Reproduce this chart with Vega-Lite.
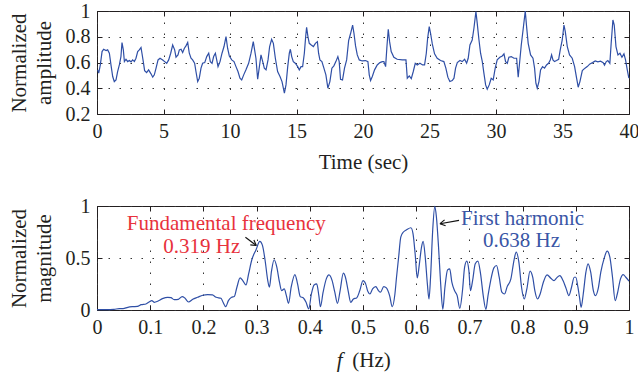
{
  "$schema": "https://vega.github.io/schema/vega-lite/v6.json",
  "background": "white",
  "padding": {"left": 7, "top": 0, "right": 6, "bottom": 4},
  "spacing": 92,
  "bounds": "flush",
  "config": {
    "font": "Liberation Serif",
    "view": {"stroke": "#231f20", "strokeWidth": 1},
    "axis": {
      "labelFont": "Liberation Serif",
      "labelFontSize": 20,
      "labelColor": "#231f20",
      "labelFlush": false,
      "labelOverlap": false,
      "labelBound": false,
      "titleFont": "Liberation Serif",
      "titleFontSize": 21,
      "titleFontWeight": "normal",
      "titleColor": "#231f20",
      "titleLineHeight": 25,
      "domain": false,
      "tickColor": "#231f20",
      "tickSize": -5,
      "tickWidth": 1,
      "gridColor": "#333333",
      "gridDash": [1.5, 9.5],
      "gridOpacity": 1,
      "gridWidth": 1
    }
  },
  "datasets": {
    "signal": [
      {"t":0.05,"v":0.543},{"t":0.13,"v":0.517},{"t":0.25,"v":0.581},{"t":0.38,"v":0.685},{"t":0.5,"v":0.703},{"t":0.68,"v":0.693},{"t":0.8,"v":0.698},{"t":0.93,"v":0.672},{"t":1.05,"v":0.581},{"t":1.18,"v":0.491},{"t":1.3,"v":0.452},{"t":1.43,"v":0.465},{"t":1.55,"v":0.53},{"t":1.68,"v":0.581},{"t":1.8,"v":0.646},{"t":1.88,"v":0.755},{"t":1.98,"v":0.698},{"t":2.06,"v":0.607},{"t":2.18,"v":0.625},{"t":2.31,"v":0.607},{"t":2.43,"v":0.615},{"t":2.56,"v":0.605},{"t":2.68,"v":0.62},{"t":2.81,"v":0.607},{"t":2.93,"v":0.633},{"t":3.06,"v":0.685},{"t":3.18,"v":0.698},{"t":3.31,"v":0.716},{"t":3.38,"v":0.672},{"t":3.48,"v":0.607},{"t":3.58,"v":0.537},{"t":3.73,"v":0.522},{"t":3.88,"v":0.543},{"t":4.06,"v":0.512},{"t":4.19,"v":0.486},{"t":4.31,"v":0.504},{"t":4.44,"v":0.556},{"t":4.59,"v":0.62},{"t":4.74,"v":0.633},{"t":4.94,"v":0.62},{"t":5.09,"v":0.607},{"t":5.24,"v":0.594},{"t":5.39,"v":0.62},{"t":5.54,"v":0.672},{"t":5.69,"v":0.736},{"t":5.84,"v":0.698},{"t":5.94,"v":0.641},{"t":6.09,"v":0.659},{"t":6.19,"v":0.698},{"t":6.32,"v":0.703},{"t":6.44,"v":0.677},{"t":6.57,"v":0.711},{"t":6.69,"v":0.729},{"t":6.82,"v":0.755},{"t":6.94,"v":0.672},{"t":7.07,"v":0.633},{"t":7.19,"v":0.62},{"t":7.34,"v":0.594},{"t":7.44,"v":0.53},{"t":7.57,"v":0.452},{"t":7.69,"v":0.478},{"t":7.82,"v":0.556},{"t":7.94,"v":0.594},{"t":8.1,"v":0.599},{"t":8.25,"v":0.646},{"t":8.4,"v":0.672},{"t":8.52,"v":0.607},{"t":8.65,"v":0.594},{"t":8.77,"v":0.646},{"t":8.9,"v":0.672},{"t":9.0,"v":0.62},{"t":9.1,"v":0.568},{"t":9.25,"v":0.607},{"t":9.4,"v":0.672},{"t":9.55,"v":0.724},{"t":9.7,"v":0.801},{"t":9.82,"v":0.711},{"t":9.95,"v":0.651},{"t":10.13,"v":0.62},{"t":10.3,"v":0.607},{"t":10.45,"v":0.568},{"t":10.6,"v":0.53},{"t":10.75,"v":0.478},{"t":10.88,"v":0.465},{"t":11.03,"v":0.504},{"t":11.2,"v":0.543},{"t":11.4,"v":0.594},{"t":11.58,"v":0.672},{"t":11.75,"v":0.762},{"t":11.85,"v":0.698},{"t":11.95,"v":0.633},{"t":12.08,"v":0.47},{"t":12.21,"v":0.568},{"t":12.33,"v":0.659},{"t":12.46,"v":0.607},{"t":12.58,"v":0.556},{"t":12.71,"v":0.543},{"t":12.86,"v":0.62},{"t":12.98,"v":0.724},{"t":13.13,"v":0.78},{"t":13.26,"v":0.749},{"t":13.41,"v":0.633},{"t":13.58,"v":0.53},{"t":13.76,"v":0.491},{"t":13.91,"v":0.452},{"t":14.09,"v":0.362},{"t":14.21,"v":0.426},{"t":14.34,"v":0.568},{"t":14.46,"v":0.672},{"t":14.54,"v":0.703},{"t":14.64,"v":0.646},{"t":14.76,"v":0.607},{"t":14.91,"v":0.594},{"t":15.09,"v":0.568},{"t":15.21,"v":0.543},{"t":15.34,"v":0.568},{"t":15.46,"v":0.568},{"t":15.59,"v":0.672},{"t":15.69,"v":0.801},{"t":15.76,"v":0.873},{"t":15.86,"v":0.801},{"t":15.96,"v":0.749},{"t":16.11,"v":0.736},{"t":16.27,"v":0.724},{"t":16.42,"v":0.749},{"t":16.57,"v":0.762},
      {"t":16.66,"v":0.672},{"t":16.76,"v":0.62},{"t":16.91,"v":0.607},{"t":17.06,"v":0.556},{"t":17.21,"v":0.504},{"t":17.36,"v":0.401},{"t":17.51,"v":0.452},{"t":17.66,"v":0.556},{"t":17.81,"v":0.574},{"t":17.96,"v":0.607},{"t":18.11,"v":0.646},{"t":18.21,"v":0.607},{"t":18.31,"v":0.47},{"t":18.46,"v":0.465},{"t":18.61,"v":0.556},{"t":18.77,"v":0.62},{"t":18.92,"v":0.77},{"t":19.07,"v":0.827},{"t":19.22,"v":0.891},{"t":19.32,"v":0.827},{"t":19.44,"v":0.729},{"t":19.57,"v":0.659},{"t":19.72,"v":0.62},{"t":19.94,"v":0.612},{"t":20.19,"v":0.615},{"t":20.37,"v":0.607},{"t":20.47,"v":0.504},{"t":20.57,"v":0.46},{"t":20.7,"v":0.491},{"t":20.87,"v":0.543},{"t":21.07,"v":0.581},{"t":21.27,"v":0.599},{"t":21.45,"v":0.607},{"t":21.57,"v":0.607},{"t":21.7,"v":0.568},{"t":21.8,"v":0.724},{"t":21.9,"v":0.858},{"t":22.0,"v":0.762},{"t":22.12,"v":0.685},{"t":22.32,"v":0.641},{"t":22.57,"v":0.625},{"t":22.95,"v":0.62},{"t":23.23,"v":0.62},{"t":23.33,"v":0.478},{"t":23.48,"v":0.496},{"t":23.63,"v":0.475},{"t":23.78,"v":0.53},{"t":23.93,"v":0.594},{"t":24.08,"v":0.581},{"t":24.28,"v":0.594},{"t":24.48,"v":0.581},{"t":24.63,"v":0.581},{"t":24.76,"v":0.672},{"t":24.86,"v":0.788},{"t":24.98,"v":0.879},{"t":25.08,"v":0.827},{"t":25.21,"v":0.744},{"t":25.38,"v":0.667},{"t":25.58,"v":0.633},{"t":25.83,"v":0.615},{"t":26.08,"v":0.607},{"t":26.23,"v":0.556},{"t":26.38,"v":0.486},{"t":26.53,"v":0.452},{"t":26.71,"v":0.46},{"t":26.84,"v":0.478},{"t":26.96,"v":0.556},{"t":27.09,"v":0.599},{"t":27.29,"v":0.615},{"t":27.46,"v":0.607},{"t":27.64,"v":0.625},{"t":27.79,"v":0.594},{"t":27.91,"v":0.633},{"t":28.04,"v":0.736},{"t":28.21,"v":0.775},{"t":28.34,"v":0.866},{"t":28.49,"v":0.995},{"t":28.59,"v":0.904},{"t":28.72,"v":0.775},{"t":28.84,"v":0.672},{"t":28.97,"v":0.607},{"t":29.09,"v":0.517},{"t":29.22,"v":0.426},{"t":29.34,"v":0.393},{"t":29.49,"v":0.426},{"t":29.64,"v":0.478},{"t":29.79,"v":0.465},{"t":29.94,"v":0.556},{"t":30.09,"v":0.62},{"t":30.29,"v":0.641},{"t":30.47,"v":0.651},{"t":30.6,"v":0.667},{"t":30.72,"v":0.607},{"t":30.85,"v":0.594},{"t":30.97,"v":0.641},{"t":31.15,"v":0.646},{"t":31.35,"v":0.633},{"t":31.55,"v":0.633},{"t":31.67,"v":0.486},{"t":31.77,"v":0.594},{"t":31.9,"v":0.736},{"t":32.05,"v":0.866},{"t":32.2,"v":1.0},{"t":32.3,"v":0.879},{"t":32.42,"v":0.749},{"t":32.6,"v":0.659},{"t":32.78,"v":0.633},{"t":32.9,"v":0.556},{"t":33.0,"v":0.439},{"t":33.1,"v":0.401},{"t":33.23,"v":0.452},{"t":33.35,"v":0.543},{"t":33.5,"v":0.568},{"t":33.65,"v":0.556},{"t":33.8,"v":0.581},{"t":33.95,"v":0.594},{"t":34.08,"v":0.62},{"t":34.18,"v":0.659},{"t":34.28,"v":0.62},{"t":34.4,"v":0.607},{"t":34.55,"v":0.615},{"t":34.71,"v":0.625},{"t":34.83,"v":0.698},{"t":34.98,"v":0.775},{"t":35.11,"v":0.891},{"t":35.21,"v":0.84},{"t":35.36,"v":0.724},{"t":35.53,"v":0.659},{"t":35.73,"v":0.633},{"t":35.91,"v":0.568},{"t":36.06,"v":0.478},{"t":36.18,"v":0.408},{"t":36.31,"v":0.452},{"t":36.49,"v":0.537},{"t":36.69,"v":0.556},{"t":36.86,"v":0.568},{"t":37.06,"v":0.589},{"t":37.26,"v":0.599},{"t":37.46,"v":0.612},{"t":37.66,"v":0.605},{"t":37.86,"v":0.61},{"t":38.06,"v":0.599},{"t":38.16,"v":0.579},{"t":38.29,"v":0.607},{"t":38.41,"v":0.615},{"t":38.56,"v":0.594},{"t":38.66,"v":0.749},{"t":38.79,"v":0.93},{"t":38.89,"v":0.891},{"t":39.02,"v":0.724},{"t":39.17,"v":0.659},{"t":39.32,"v":0.672},{"t":39.47,"v":0.641},{"t":39.62,"v":0.667},{"t":39.74,"v":0.62},{"t":39.87,"v":0.543},{"t":39.99,"v":0.478}
    ],
    "spectrum": [
      {"f":0,"v":0.003},{"f":0.017,"v":0.003},{"f":0.032,"v":0.006},{"f":0.042,"v":0.013},{"f":0.049,"v":0.013},{"f":0.058,"v":0.026},{"f":0.067,"v":0.032},{"f":0.076,"v":0.035},{"f":0.083,"v":0.051},{"f":0.092,"v":0.058},{"f":0.098,"v":0.077},{"f":0.103,"v":0.09},{"f":0.108,"v":0.074},{"f":0.114,"v":0.084},{"f":0.123,"v":0.109},{"f":0.133,"v":0.122},{"f":0.139,"v":0.119},{"f":0.145,"v":0.1},{"f":0.153,"v":0.103},{"f":0.16,"v":0.129},{"f":0.165,"v":0.116},{"f":0.172,"v":0.077},{"f":0.18,"v":0.103},{"f":0.189,"v":0.122},{"f":0.199,"v":0.142},{"f":0.208,"v":0.148},{"f":0.217,"v":0.145},{"f":0.224,"v":0.122},{"f":0.233,"v":0.113},{"f":0.237,"v":0.074},{"f":0.242,"v":0.032},{"f":0.247,"v":0.09},{"f":0.253,"v":0.122},{"f":0.258,"v":0.129},{"f":0.263,"v":0.219},{"f":0.269,"v":0.309},{"f":0.274,"v":0.283},{"f":0.28,"v":0.241},{"f":0.285,"v":0.347},{"f":0.291,"v":0.483},{"f":0.299,"v":0.579},{"f":0.306,"v":0.66},{"f":0.311,"v":0.621},{"f":0.316,"v":0.476},{"f":0.321,"v":0.283},{"f":0.324,"v":0.219},{"f":0.328,"v":0.373},{"f":0.333,"v":0.483},{"f":0.338,"v":0.412},{"f":0.343,"v":0.267},{"f":0.347,"v":0.187},{"f":0.352,"v":0.203},{"f":0.356,"v":0.138},{"f":0.36,"v":0.064},{"f":0.365,"v":0.219},{"f":0.372,"v":0.341},{"f":0.377,"v":0.251},{"f":0.382,"v":0.129},{"f":0.388,"v":0.116},{"f":0.393,"v":0.074},{"f":0.398,"v":0.01},{"f":0.403,"v":0.154},{"f":0.408,"v":0.241},{"f":0.413,"v":0.251},
      {"f":0.417,"v":0.138},{"f":0.42,"v":0.032},{"f":0.425,"v":0.171},{"f":0.431,"v":0.299},{"f":0.436,"v":0.338},{"f":0.442,"v":0.283},{"f":0.447,"v":0.171},{"f":0.452,"v":0.064},{"f":0.457,"v":0.187},{"f":0.463,"v":0.354},{"f":0.467,"v":0.315},{"f":0.472,"v":0.187},{"f":0.477,"v":0.074},{"f":0.482,"v":0.106},{"f":0.488,"v":0.116},{"f":0.494,"v":0.187},{"f":0.5,"v":0.283},{"f":0.505,"v":0.251},{"f":0.509,"v":0.18},{"f":0.513,"v":0.154},{"f":0.518,"v":0.203},{"f":0.524,"v":0.225},{"f":0.529,"v":0.187},{"f":0.533,"v":0.171},{"f":0.539,"v":0.225},{"f":0.544,"v":0.212},{"f":0.55,"v":0.138},{"f":0.555,"v":0.032},{"f":0.56,"v":0.154},{"f":0.563,"v":0.315},{"f":0.567,"v":0.508},{"f":0.571,"v":0.701},{"f":0.576,"v":0.75},{"f":0.582,"v":0.772},{"f":0.59,"v":0.791},{"f":0.594,"v":0.734},{"f":0.598,"v":0.541},{"f":0.602,"v":0.309},{"f":0.606,"v":0.444},{"f":0.61,"v":0.605},{"f":0.613,"v":0.66},{"f":0.617,"v":0.508},{"f":0.621,"v":0.251},{"f":0.624,"v":0.106},{"f":0.627,"v":0.315},{"f":0.631,"v":0.766},{"f":0.635,"v":0.997},{"f":0.638,"v":0.894},{"f":0.642,"v":0.605},{"f":0.646,"v":0.251},{"f":0.65,"v":0.006},{"f":0.654,"v":0.219},{"f":0.659,"v":0.386},{"f":0.663,"v":0.396},{"f":0.667,"v":0.267},{"f":0.672,"v":0.187},{"f":0.677,"v":0.138},{"f":0.682,"v":0.016},{"f":0.687,"v":0.187},{"f":0.691,"v":0.412},{"f":0.695,"v":0.47},{"f":0.699,"v":0.38},{"f":0.702,"v":0.187},{"f":0.706,"v":0.283},{"f":0.711,"v":0.444},{"f":0.716,"v":0.47},{"f":0.721,"v":0.347},{"f":0.726,"v":0.138},{"f":0.731,"v":0.006},{"f":0.735,"v":0.138},{"f":0.74,"v":0.283},{"f":0.746,"v":0.405},{"f":0.751,"v":0.428},{"f":0.756,"v":0.315},{"f":0.761,"v":0.171},{"f":0.766,"v":0.154},{"f":0.771,"v":0.225},{"f":0.778,"v":0.299},{"f":0.784,"v":0.483},{"f":0.788,"v":0.557},{"f":0.793,"v":0.46},{"f":0.798,"v":0.219},{"f":0.803,"v":0.106},{"f":0.808,"v":0.203},{"f":0.814,"v":0.373},{"f":0.819,"v":0.315},{"f":0.823,"v":0.187},{"f":0.828,"v":0.106},{"f":0.833,"v":0.154},{"f":0.839,"v":0.267},{"f":0.846,"v":0.338},{"f":0.853,"v":0.306},{"f":0.859,"v":0.283},{"f":0.864,"v":0.309},{"f":0.87,"v":0.331},{"f":0.876,"v":0.283},{"f":0.882,"v":0.203},{"f":0.887,"v":0.138},{"f":0.892,"v":0.219},{"f":0.897,"v":0.315},{"f":0.9,"v":0.315},{"f":0.904,"v":0.219},{"f":0.907,"v":0.122},{"f":0.91,"v":0.026},{"f":0.914,"v":0.154},{"f":0.919,"v":0.364},{"f":0.923,"v":0.444},{"f":0.928,"v":0.364},{"f":0.933,"v":0.187},{"f":0.937,"v":0.138},{"f":0.942,"v":0.203},{"f":0.947,"v":0.364},{"f":0.953,"v":0.492},{"f":0.959,"v":0.566},{"f":0.964,"v":0.508},{"f":0.969,"v":0.315},{"f":0.974,"v":0.09},{"f":0.978,"v":0.154},{"f":0.984,"v":0.299},{"f":0.989,"v":0.341},{"f":0.994,"v":0.315},{"f":1.0,"v":0.277}
    ],
    "notes": [
      {"label":"Fundamental frequency","series":"fundamental","f":0.243,"v":0.77},
      {"label":"0.319 Hz","series":"fundamental","f":0.197,"v":0.55},
      {"label":"First harmonic","series":"harmonic","f":0.8,"v":0.818},
      {"label":"0.638 Hz","series":"harmonic","f":0.798,"v":0.602}
    ],
    "arrows": [
      {"f":0.279,"v":0.70,"f2":0.2994,"v2":0.6206},
      {"f":0.2949,"v":0.6737,"f2":0.2994,"v2":0.6206},
      {"f":0.2882,"v":0.6264,"f2":0.2994,"v2":0.6206},
      {"f":0.6805,"v":0.862,"f2":0.6447,"v2":0.830},
      {"f":0.6553,"v":0.8099,"f2":0.6447,"v2":0.830},
      {"f":0.6534,"v":0.8668,"f2":0.6447,"v2":0.830}
    ],
    "fsymbol": [
      {"label":"f","f":0.456,"v":-0.544}
    ]
  },
  "vconcat": [
    {
      "width": 532,
      "height": 103,
      "layer": [
        {
          "data": {"name": "signal"},
          "mark": {"type": "line", "color": "#2f4fa6", "strokeWidth": 1.2},
          "encoding": {
            "x": {"field": "t", "type": "quantitative",
              "scale": {"domain": [0, 40], "nice": false, "zero": false},
              "axis": {"values": [0, 5, 10, 15, 20, 25, 30, 35, 40], "format": "~g", "grid": true,
                "labelPadding": 12, "labelBaseline": "top",
                "title": "Time (sec)", "titleX": 266, "titleY": 54, "titleBaseline": "alphabetic", "titleAlign": "center"}},
            "y": {"field": "v", "type": "quantitative",
              "scale": {"domain": [0.2, 1], "nice": false, "zero": false},
              "axis": {"values": [0.2, 0.4, 0.6, 0.8, 1], "format": "~g", "grid": true,
                "labelPadding": 12,
                "title": ["Normalized", "amplitude"], "titleX": -68, "titleBaseline": "bottom", "titleAlign": "center"}}
          }
        },
        {
          "data": {"name": "signal"},
          "mark": {"type": "line", "opacity": 0},
          "encoding": {
            "x": {"field": "t", "type": "quantitative",
              "axis": {"orient": "top", "values": [0, 5, 10, 15, 20, 25, 30, 35, 40], "labels": false, "grid": false, "title": null}},
            "y": {"field": "v", "type": "quantitative",
              "axis": {"orient": "right", "values": [0.2, 0.4, 0.6, 0.8, 1], "labels": false, "grid": false, "title": null}}
          }
        }
      ],
      "resolve": {"axis": {"x": "independent", "y": "independent"}}
    },
    {
      "width": 532,
      "height": 104,
      "layer": [
        {
          "data": {"name": "spectrum"},
          "mark": {"type": "line", "color": "#2f4fa6", "strokeWidth": 1.2, "interpolate": "monotone"},
          "encoding": {
            "x": {"field": "f", "type": "quantitative",
              "scale": {"domain": [0, 1], "nice": false, "zero": false},
              "axis": {"values": [0, 0.1, 0.2, 0.3, 0.4, 0.5, 0.6, 0.7, 0.8, 0.9, 1], "format": "~g", "grid": true,
                "labelPadding": 12, "labelBaseline": "top",
                "title": "(Hz)", "titleX": 274, "titleY": 56, "titleBaseline": "alphabetic", "titleAlign": "center"}},
            "y": {"field": "v", "type": "quantitative",
              "scale": {"domain": [0, 1], "nice": false, "zero": false},
              "axis": {"values": [0, 0.5, 1], "format": "~g", "grid": true,
                "labelPadding": 12,
                "title": ["Normalized", "magnitude"], "titleX": -68, "titleBaseline": "bottom", "titleAlign": "center"}}
          }
        },
        {
          "data": {"name": "spectrum"},
          "mark": {"type": "line", "opacity": 0},
          "encoding": {
            "x": {"field": "f", "type": "quantitative",
              "axis": {"orient": "top", "values": [0, 0.1, 0.2, 0.3, 0.4, 0.5, 0.6, 0.7, 0.8, 0.9, 1], "labels": false, "grid": false, "title": null}},
            "y": {"field": "v", "type": "quantitative",
              "axis": {"orient": "right", "values": [0, 0.5, 1], "labels": false, "grid": false, "title": null}}
          }
        },
        {
          "data": {"name": "notes"},
          "mark": {"type": "text", "font": "Liberation Serif", "fontSize": 21, "align": "center", "baseline": "alphabetic"},
          "encoding": {
            "x": {"field": "f", "type": "quantitative", "axis": null},
            "y": {"field": "v", "type": "quantitative", "axis": null},
            "text": {"field": "label"},
            "color": {"field": "series", "type": "nominal",
              "scale": {"domain": ["fundamental", "harmonic"], "range": ["#e8323c", "#3a56a6"]}, "legend": null}
          }
        },
        {
          "data": {"name": "arrows"},
          "mark": {"type": "rule", "color": "#111111", "strokeWidth": 1.1},
          "encoding": {
            "x": {"field": "f", "type": "quantitative", "axis": null},
            "y": {"field": "v", "type": "quantitative", "axis": null},
            "x2": {"field": "f2"},
            "y2": {"field": "v2"}
          }
        },
        {
          "data": {"name": "fsymbol"},
          "mark": {"type": "text", "font": "Liberation Serif", "fontSize": 21, "fontStyle": "italic", "align": "center", "baseline": "alphabetic", "color": "#231f20"},
          "encoding": {
            "x": {"field": "f", "type": "quantitative", "axis": null},
            "y": {"field": "v", "type": "quantitative", "axis": null},
            "text": {"field": "label"}
          }
        }
      ],
      "resolve": {"axis": {"x": "independent", "y": "independent"}}
    }
  ]
}
